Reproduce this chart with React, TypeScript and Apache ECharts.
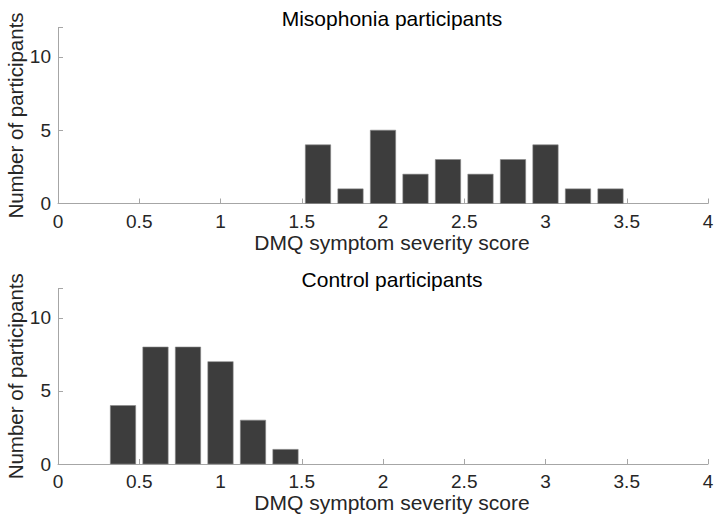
import React, { useEffect, useRef } from "react";
import * as echarts from "echarts";

const binCentersMiso = [1.6, 1.8, 2.0, 2.2, 2.4, 2.6, 2.8, 3.0, 3.2, 3.4];
const countsMiso = [4, 1, 5, 2, 3, 2, 3, 4, 1, 1];
const binCentersCtrl = [0.4, 0.6, 0.8, 1.0, 1.2, 1.4];
const countsCtrl = [4, 8, 8, 7, 3, 1];
const titles = ["Misophonia participants", "Control participants"];
const xLabel = "DMQ symptom severity score";
const yLabel = "Number of participants";
const binWidth = 0.2;
const barFraction = 0.78;

const FONT = "'Liberation Sans', Arial, Helvetica, sans-serif";
const TXT = "#262626";
const AXC = "#a6a6a6";

export default function App() {
  const ref = useRef<HTMLDivElement>(null);
  useEffect(() => {
    if (!ref.current) return;
    const chart = echarts.init(ref.current, null, { renderer: "svg" });
    const grids = [
      { left: 58, right: 8, top: 27.5, height: 176, outerBoundsMode: "none", containLabel: false },
      { left: 58, right: 8, top: 288.5, height: 175.5, outerBoundsMode: "none", containLabel: false },
    ];
    const mkX = (i: number) => ({
      type: "value",
      gridIndex: i,
      min: 0,
      max: 4,
      interval: 0.5,
      name: xLabel,
      nameLocation: "middle",
      nameGap: 28,
      nameMoveOverlap: false,
      nameTextStyle: { fontSize: 21, color: TXT, fontFamily: FONT, padding: [0, 0, 0, 18] },
      axisLine: { show: true, lineStyle: { color: AXC, width: 1 } },
      axisTick: { show: true, inside: true, length: 5, lineStyle: { color: AXC } },
      axisLabel: { fontSize: 19, color: TXT, fontFamily: FONT, margin: 8 },
      splitLine: { show: false },
    });
    const mkY = (i: number) => ({
      type: "value",
      gridIndex: i,
      min: 0,
      max: 12,
      interval: 5,
      name: yLabel,
      nameLocation: "middle",
      nameGap: 32,
      nameMoveOverlap: false,
      nameTextStyle: { fontSize: 20.5, color: TXT, fontFamily: FONT },
      axisLine: { show: true, lineStyle: { color: AXC, width: 1 } },
      axisTick: { show: true, inside: true, length: 5, lineStyle: { color: AXC } },
      axisLabel: {
        fontSize: 19,
        color: TXT,
        fontFamily: FONT,
        margin: 7,
        formatter: (v: number) => (v % 5 === 0 ? String(v) : ""),
      },
      splitLine: { show: false },
    });
    const renderBar = (params: any, api: any) => {
      const x = api.value(0);
      const y = api.value(1);
      const p1 = api.coord([x - (binWidth * barFraction) / 2, y]);
      const p2 = api.coord([x + (binWidth * barFraction) / 2, 0]);
      return {
        type: "rect",
        shape: { x: p1[0], y: p1[1], width: p2[0] - p1[0], height: p2[1] - p1[1] },
        style: { fill: "#3d3d3d", stroke: "#8a8a8a", lineWidth: 0.6 },
      };
    };
    const option = {
      animation: false,
      backgroundColor: "#ffffff",
      title: titles.map((t, i) => ({
        text: t,
        left: 387,
        textAlign: "center",
        top: i === 0 ? 3 : 264,
        textStyle: { fontSize: 21, fontWeight: "normal", color: "#000", fontFamily: FONT },
      })),
      grid: grids,
      xAxis: [mkX(0), mkX(1)],
      yAxis: [mkY(0), mkY(1)],
      series: [
        {
          type: "custom",
          xAxisIndex: 0,
          yAxisIndex: 0,
          renderItem: renderBar,
          data: binCentersMiso.map((c, k) => [c, countsMiso[k]]),
          encode: { x: 0, y: 1 },
        },
        {
          type: "custom",
          xAxisIndex: 1,
          yAxisIndex: 1,
          renderItem: renderBar,
          data: binCentersCtrl.map((c, k) => [c, countsCtrl[k]]),
          encode: { x: 0, y: 1 },
        },
      ],
    };
    chart.setOption(option as any);
    return () => chart.dispose();
  }, []);
  return <div ref={ref} style={{ width: 716, height: 522, position: "absolute", left: 0, top: 0 }} />;
}
